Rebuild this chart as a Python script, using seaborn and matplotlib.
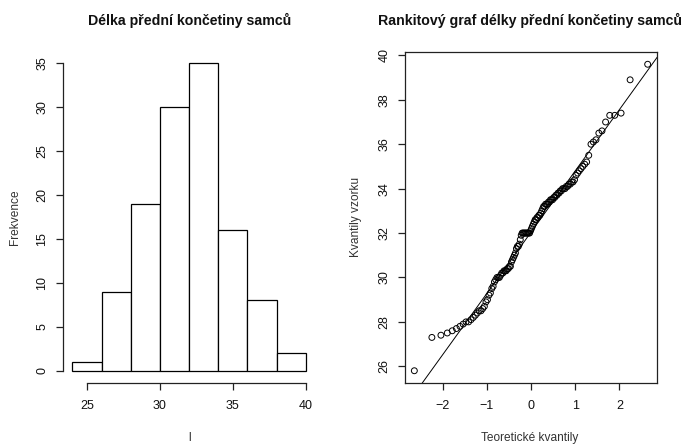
import numpy as np
import pandas as pd
import matplotlib
matplotlib.use("Agg")
import matplotlib.pyplot as plt
import seaborn as sns
from statistics import NormalDist

# ---- data (sorted forelimb lengths of males, n = 120) ----
tail_low = [25.8, 27.3, 27.4, 27.5, 27.6, 27.7, 27.8, 27.9, 28.0, 28.0]
band_28_30 = [28.1, 28.2, 28.3, 28.4, 28.5, 28.5, 28.6, 28.7, 28.9, 29.0,
              29.2, 29.3, 29.5, 29.6, 29.8, 29.9, 30.0, 30.0, 30.0]
band_30_32 = [30.1, 30.2, 30.2, 30.3, 30.3, 30.3, 30.4, 30.4, 30.5, 30.5,
              30.7, 30.8, 30.9, 31.0, 31.1, 31.3, 31.4, 31.4, 31.5, 31.7,
              31.9, 32.0, 32.0, 32.0, 32.0, 32.0, 32.0, 32.0, 32.0, 32.0]
band_32_34 = [32.1, 32.2, 32.3, 32.4, 32.5, 32.6, 32.6, 32.7, 32.7, 32.8,
              32.8, 32.9, 33.0, 33.1, 33.2, 33.2, 33.3, 33.3, 33.3, 33.4,
              33.4, 33.5, 33.5, 33.5, 33.6, 33.6, 33.7, 33.7, 33.8, 33.8,
              33.9, 33.9, 34.0, 34.0, 34.0]
band_34_36 = [34.1, 34.1, 34.2, 34.2, 34.3, 34.3, 34.4, 34.6, 34.7, 34.8,
              34.9, 35.0, 35.1, 35.2, 35.5, 36.0]
tail_high = [36.1, 36.2, 36.5, 36.6, 37.0, 37.3, 37.3, 37.4, 38.9, 39.6]

bin_edges = [24, 26, 28, 30, 32, 34, 36, 38, 40]
hist_xticks = [25, 30, 35, 40]
hist_yticks = [0, 5, 10, 15, 20, 25, 30, 35]
qq_xticks = [-2, -1, 0, 1, 2]
qq_yticks = [26, 28, 30, 32, 34, 36, 38, 40]

title_left = "Délka přední končetiny samců"
title_right = "Rankitový graf délky přední končetiny samců"

values = np.array(tail_low + band_28_30 + band_30_32 + band_32_34 + band_34_36 + tail_high)

# ---- derived quantities (R-style hist right-closed bins, ppoints, qqline) ----
cats = pd.cut(values, bins=bin_edges, right=True, include_lowest=True)
counts = pd.Series(cats).value_counts(sort=False).values
centers = (np.array(bin_edges[:-1]) + np.array(bin_edges[1:])) / 2

n = len(values)
nd = NormalDist()
probs = (np.arange(1, n + 1) - 0.5) / n
theo = np.array([nd.inv_cdf(p) for p in probs])
sample = np.sort(values)
q1, q3 = np.quantile(sample, [0.25, 0.75])
z1, z3 = nd.inv_cdf(0.25), nd.inv_cdf(0.75)
slope = (q3 - q1) / (z3 - z1)
intercept = q1 - slope * z1

# ---- figure ----
plt.rcParams["font.family"] = ["Liberation Sans", "DejaVu Sans"]
W, H = 686, 446
fig = plt.figure(figsize=(W / 100, H / 100), dpi=100)

def box(l, t, r, b):
    return [l / W, 1 - b / H, (r - l) / W, (b - t) / H]

tick_fs = 9
lab_fs = 8.6
title_fs = 10.2
txt_col = "#111111"

# left: histogram
ax1 = fig.add_axes(box(63, 51, 315, 383))
sns.histplot(x=centers, weights=counts, bins=bin_edges, ax=ax1,
             color="white", edgecolor="black", linewidth=0.9, alpha=1)
ax1.set_xlim(24 - 0.04 * 16, 40 + 0.04 * 16)
ax1.set_ylim(-0.04 * 35, 35 * 1.04)
for s in ["top", "right"]:
    ax1.spines[s].set_visible(False)
ax1.spines["left"].set_bounds(0, 35)
ax1.spines["bottom"].set_bounds(25, 40)
ax1.set_xticks(hist_xticks)
ax1.set_yticks(hist_yticks)
ax1.set_yticklabels([str(v) for v in hist_yticks], rotation=90, va="center")
ax1.set_xlabel("")
ax1.set_ylabel("")

# right: normal QQ plot
ax2 = fig.add_axes(box(405, 52, 657, 383))
sns.scatterplot(x=theo, y=sample, ax=ax2, marker="o", s=18,
                facecolor="none", edgecolor="black", linewidth=0.7)
ax2.axline((0, intercept), slope=slope, color="black", linewidth=0.7)
xr = theo.max() - theo.min()
yr = sample.max() - sample.min()
ax2.set_xlim(theo.min() - 0.04 * xr, theo.max() + 0.04 * xr)
ax2.set_ylim(sample.min() - 0.04 * yr, sample.max() + 0.04 * yr)
ax2.set_xticks(qq_xticks)
ax2.set_yticks(qq_yticks)
ax2.set_yticklabels([str(v) for v in qq_yticks], rotation=90, va="center")
ax2.set_xlabel("")
ax2.set_ylabel("")

for ax in (ax1, ax2):
    for s in ax.spines.values():
        s.set_linewidth(0.9)
        s.set_color("#222222")
    ax.tick_params(axis="both", direction="out", length=5, width=0.9,
                   colors="#222222", labelsize=tick_fs, labelcolor=txt_col)
    ax.tick_params(axis="x", pad=7.5)
    ax.tick_params(axis="y", pad=5.5)
    ax.set_facecolor("white")

# titles and axis labels
fig.text(190 / W, 1 - 20 / H, title_left, ha="center", va="center",
         fontsize=title_fs, fontweight="bold", color=txt_col)
fig.text(530 / W, 1 - 20 / H, title_right, ha="center", va="center",
         fontsize=title_fs, fontweight="bold", color=txt_col)
fig.text(15 / W, 1 - 217 / H, "Frekvence", rotation=90, ha="center",
         va="center", fontsize=lab_fs, color="#333333")
fig.text(190 / W, 1 - 438 / H, "l", ha="center", va="center",
         fontsize=lab_fs, color="#333333")
fig.text(356 / W, 1 - 217 / H, "Kvantily vzorku", rotation=90, ha="center",
         va="center", fontsize=lab_fs, color="#333333")
fig.text(530 / W, 1 - 438 / H, "Teoretické kvantily", ha="center",
         va="center", fontsize=lab_fs, color="#333333")

fig.savefig("out.png", dpi=100, facecolor="white")
